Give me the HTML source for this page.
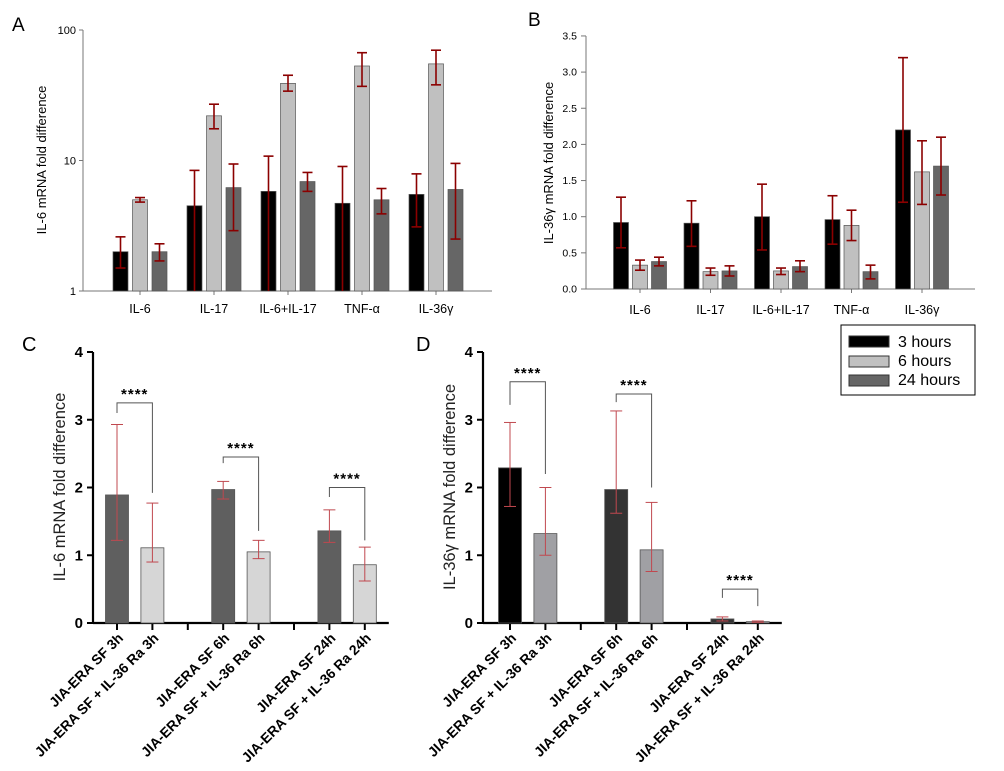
<!DOCTYPE html>
<html><head><meta charset="utf-8">
<style>
html,body{margin:0;padding:0;background:#fff;}
svg{display:block;font-family:"Liberation Sans",Arial,sans-serif;}
</style></head>
<body>
<svg id="fig" width="1004" height="771" viewBox="0 0 1004 771" xmlns="http://www.w3.org/2000/svg">
<text x="12" y="31" font-size="19">A</text>
<text x="528" y="26" font-size="19">B</text>
<text x="22" y="351" font-size="20">C</text>
<text x="416" y="351" font-size="20">D</text>
<g>
<rect x="841" y="325" width="134" height="70" fill="#fff" stroke="#000" stroke-width="1"/>
<rect x="849" y="336" width="40" height="11" fill="#000" stroke="#333"/>
<rect x="849" y="356" width="40" height="11" fill="#c0c0c0" stroke="#333"/>
<rect x="849" y="375" width="40" height="11" fill="#666" stroke="#333"/>
<text x="898" y="347" font-size="16">3 hours</text>
<text x="898" y="366" font-size="16">6 hours</text>
<text x="898" y="385" font-size="16">24 hours</text>
</g>
</svg>
<script>
// Panel A data (log scale)
const catsAB = ["IL-6","IL-17","IL-6+IL-17","TNF-\u03b1","IL-36\u03b3"];
const aVals3h = [2.0,4.5,5.8,4.7,5.5];
const aVals6h = [5.0,22,39,53,55];
const aVals24h = [2.0,6.2,6.9,5.0,6.0];
const aHi3h = [2.6,8.4,10.8,9.0,7.9];
const aLo3h = [1.5,1.0,1.0,1.0,3.1];
const aHi6h = [5.2,27,45,67,70];
const aLo6h = [4.8,17.5,34,37,38];
const aHi24h = [2.3,9.4,8.1,6.1,9.5];
const aLo24h = [1.7,2.9,5.8,3.9,2.5];
const aTicks = [1,10,100];
// Panel B data
const bVals3h = [0.92,0.91,1.0,0.96,2.2];
const bVals6h = [0.33,0.24,0.25,0.88,1.62];
const bVals24h = [0.38,0.25,0.31,0.24,1.7];
const bHi3h = [1.27,1.22,1.45,1.29,3.2];
const bLo3h = [0.57,0.59,0.54,0.62,1.2];
const bHi6h = [0.40,0.29,0.29,1.09,2.05];
const bLo6h = [0.26,0.19,0.20,0.67,1.17];
const bHi24h = [0.44,0.32,0.39,0.33,2.1];
const bLo24h = [0.32,0.18,0.24,0.14,1.3];
const bTicks = [0,0.5,1.0,1.5,2.0,2.5,3.0,3.5];
// Panel C/D data
const cdCats = ["JIA-ERA SF 3h","JIA-ERA SF + IL-36 Ra 3h","JIA-ERA SF 6h","JIA-ERA SF + IL-36 Ra 6h","JIA-ERA SF 24h","JIA-ERA SF + IL-36 Ra 24h"];
const cVals = [1.89,1.11,1.97,1.05,1.36,0.86];
const cHi = [2.93,1.77,2.09,1.22,1.67,1.12];
const cLo = [1.22,0.90,1.83,0.95,1.19,0.62];
const dVals = [2.29,1.32,1.97,1.08,0.06,0.02];
const dHi = [2.96,2.0,3.13,1.78,0.09,0.03];
const dLo = [1.72,1.0,1.62,0.76,0.03,0.01];
const cdTicks = [0,1,2,3,4];
// brackets: [bracket top value, left leg end value, right leg end value]
const cBrackets = [[3.25,3.1,1.92],[2.45,2.36,1.36],[2.0,1.86,1.22]];
const dBrackets = [[3.56,3.22,2.2],[3.38,3.26,2.0],[0.5,0.37,0.25]];

const NS="http://www.w3.org/2000/svg";
const svg=document.getElementById('fig');
function mk(tag,attrs,parent){const e=document.createElementNS(NS,tag);for(const k in attrs)e.setAttribute(k,attrs[k]);(parent||svg).appendChild(e);return e;}

// ---------- Panel A ----------
(function(){
  const g=mk('g',{});
  
  
  const x0=83,x1=492,yB=291,k=130.5;
  const y=v=>yB-k*Math.log10(v);
  const cx=i=>140+74*i;
  mk('line',{x1:x0,y1:y(100),x2:x0,y2:yB,stroke:'#777','stroke-width':1},g);
  mk('line',{x1:x0,y1:yB,x2:x1,y2:yB,stroke:'#777','stroke-width':1},g);
  aTicks.forEach(t=>{
    mk('line',{x1:x0-4,y1:y(t),x2:x0,y2:y(t),stroke:'#777'},g);
    const tx=mk('text',{x:x0-7,y:y(t)+4,'font-size':11,'text-anchor':'end'},g);tx.textContent=t;
    
    
  });
  const yt=mk('text',{x:0,y:0,'font-size':13,'text-anchor':'middle',transform:'translate(46,160) rotate(-90)'},g);
  yt.textContent='IL-6 mRNA fold difference';
  
  
  const series=[[aVals3h,aHi3h,aLo3h,'#000',-19.5],[aVals6h,aHi6h,aLo6h,'#c0c0c0',0],[aVals24h,aHi24h,aLo24h,'#666',19.5]];
  catsAB.forEach((c,i)=>{
    mk('line',{x1:cx(i),y1:yB,x2:cx(i),y2:yB+4,stroke:'#777'},g);
    const t=mk('text',{x:cx(i),y:313,'font-size':12.5,'text-anchor':'middle'},g);t.textContent=c;
    
    
    series.forEach((s,j)=>{
      const bx=cx(i)+s[4]-7.5, top=y(s[0][i]);
      const r=mk('rect',{x:bx,y:top,width:15,height:yB-top,fill:s[3],stroke:'#555','stroke-width':0.7},g);
      
      
      const mx=bx+7.5,hi=y(s[1][i]),lo=y(s[2][i]);
      mk('line',{x1:mx,y1:hi,x2:mx,y2:lo,stroke:'#8b0000','stroke-width':1.6},g);
      mk('line',{x1:mx-5,y1:hi,x2:mx+5,y2:hi,stroke:'#8b0000','stroke-width':1.6},g);
      if(s[2][i]>1.01) mk('line',{x1:mx-5,y1:lo,x2:mx+5,y2:lo,stroke:'#8b0000','stroke-width':1.6},g);
    });
  });
})();

// ---------- Panel B ----------
(function(){
  const g=mk('g',{});
  
  
  const x0=586,x1=975,yB=289,k=72.3;
  const y=v=>yB-k*v;
  const cx=i=>640+70.5*i;
  mk('line',{x1:x0,y1:y(3.5),x2:x0,y2:yB,stroke:'#777'},g);
  mk('line',{x1:x0-4,y1:yB,x2:x1,y2:yB,stroke:'#777'},g);
  bTicks.forEach(t=>{
    mk('line',{x1:x0-5,y1:y(t),x2:x0,y2:y(t),stroke:'#777'},g);
    const tx=mk('text',{x:x0-9,y:y(t)+3.5,'font-size':10.5,'text-anchor':'end'},g);tx.textContent=t.toFixed(1);
    
    
  });
  const yt=mk('text',{x:0,y:0,'font-size':13,'text-anchor':'middle',transform:'translate(553,163) rotate(-90)'},g);
  yt.textContent='IL-36\u03b3 mRNA fold difference';
  
  
  const series=[[bVals3h,bHi3h,bLo3h,'#000',-19],[bVals6h,bHi6h,bLo6h,'#c0c0c0',0],[bVals24h,bHi24h,bLo24h,'#666',19]];
  catsAB.forEach((c,i)=>{
    mk('line',{x1:cx(i),y1:yB,x2:cx(i),y2:yB+4,stroke:'#777'},g);
    const t=mk('text',{x:cx(i),y:314,'font-size':12.5,'text-anchor':'middle'},g);t.textContent=c;
    
    
    series.forEach((s,j)=>{
      const bx=cx(i)+s[4]-7.5, top=y(s[0][i]);
      const r=mk('rect',{x:bx,y:top,width:15,height:yB-top,fill:s[3],stroke:'#555','stroke-width':0.7},g);
      
      
      const mx=bx+7.5,hi=y(s[1][i]),lo=y(s[2][i]);
      mk('line',{x1:mx,y1:hi,x2:mx,y2:lo,stroke:'#8b0000','stroke-width':1.6},g);
      mk('line',{x1:mx-5,y1:hi,x2:mx+5,y2:hi,stroke:'#8b0000','stroke-width':1.6},g);
      mk('line',{x1:mx-5,y1:lo,x2:mx+5,y2:lo,stroke:'#8b0000','stroke-width':1.6},g);
    });
  });
})();

// ---------- Panels C & D ----------
function panelCD(name,x0,firstX,vals,hi,lo,fills,brackets,title,titleX){
  const g=mk('g',{});
  
  
  const yB=623,k=67.75,step=35.4;
  const y=v=>yB-k*v;
  const xs=[0,1,3,4,6,7].map(n=>firstX+step*n);
  const x1=firstX+step*7+24;
  mk('line',{x1:x0,y1:y(4),x2:x0,y2:yB,stroke:'#000','stroke-width':2.2},g);
  mk('line',{x1:x0,y1:yB,x2:x1,y2:yB,stroke:'#000','stroke-width':2.2},g);
  cdTicks.forEach(t=>{
    mk('line',{x1:x0-6,y1:y(t),x2:x0,y2:y(t),stroke:'#000','stroke-width':2},g);
    const tx=mk('text',{x:x0-10,y:y(t)+5,'font-size':15,'font-weight':'bold','text-anchor':'end'},g);tx.textContent=t;
    
    
  });
  [0,1,2,3,4,5,6,7].forEach(n=>mk('line',{x1:firstX+step*n,y1:yB,x2:firstX+step*n,y2:yB+7,stroke:'#000','stroke-width':2},g));
  const yt=mk('text',{x:0,y:0,'font-size':16.5,fill:'#222','text-anchor':'middle',transform:'translate('+titleX+',487) rotate(-90)'},g);
  yt.textContent=title;
  
  
  cdCats.forEach((c,i)=>{
    const cx=xs[i],top=y(vals[i]);
    const r=mk('rect',{x:cx-11.5,y:top,width:23,height:yB-top,fill:fills[i],stroke:'#555','stroke-width':0.8},g);
    
    
    const h=y(hi[i]),l=y(lo[i]);
    mk('line',{x1:cx,y1:h,x2:cx,y2:l,stroke:'#c0484f','stroke-width':1},g);
    mk('line',{x1:cx-6,y1:h,x2:cx+6,y2:h,stroke:'#c0484f','stroke-width':1},g);
    mk('line',{x1:cx-6,y1:l,x2:cx+6,y2:l,stroke:'#c0484f','stroke-width':1},g);
    const t=mk('text',{x:0,y:0,'font-size':14,'font-weight':'bold','text-anchor':'end',transform:'translate('+(cx+7)+','+(yB+16)+') rotate(-45)'},g);
    t.textContent=c;
    
    
  });
  brackets.forEach((b,p)=>{
    const xl=xs[2*p],xr=xs[2*p+1],yt2=y(b[0]);
    mk('path',{d:'M'+xl+' '+y(b[1])+' V'+yt2+' H'+xr+' V'+y(b[2]),fill:'none',stroke:'#555','stroke-width':1},g);
    const s=mk('text',{x:(xl+xr)/2,y:yt2-4,'font-size':15,'font-weight':'bold','text-anchor':'middle','letter-spacing':'1'},g);
    s.textContent='****';
    
    
  });
}
panelCD('panel-c',93,117,cVals,cHi,cLo,['#5f5f5f','#d6d6d6','#5f5f5f','#d6d6d6','#5f5f5f','#d6d6d6'],cBrackets,'IL-6 mRNA fold difference',65);
panelCD('panel-d',483,510,dVals,dHi,dLo,['#000','#a0a0a4','#333','#a0a0a4','#333','#a0a0a4'],dBrackets,'IL-36\u03b3 mRNA fold difference',455);
</script>
</body></html>
